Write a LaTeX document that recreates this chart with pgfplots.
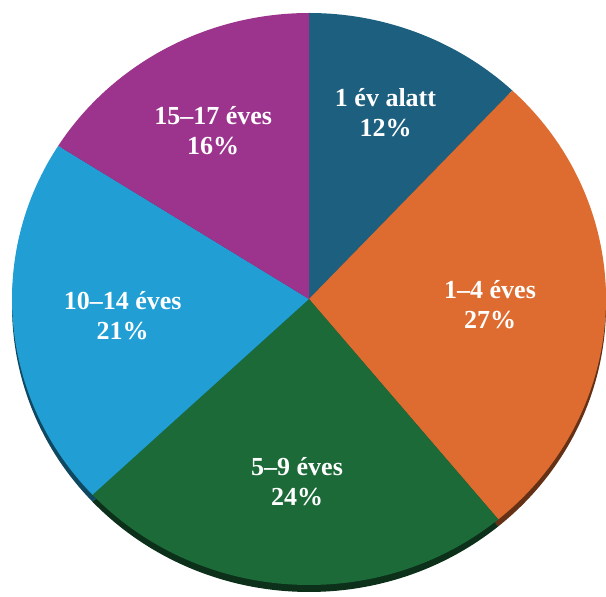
\documentclass[border=0pt]{standalone}
\usepackage{fontspec}
\setmainfont{Liberation Serif}
\usepackage{pgfplots}
\usepackage{pgfplotstable}
\pgfplotsset{compat=1.18}
\definecolor{cA}{HTML}{1C5F7E}
\definecolor{cB}{HTML}{DE6C30}
\definecolor{cC}{HTML}{1B6A37}
\definecolor{cD}{HTML}{219FD5}
\definecolor{cE}{HTML}{9C348E}
\pgfplotstableread[col sep=comma]{
label,value,col,lr
1 év alatt,12,cA,0.70
1–4 éves,27,cB,0.61
5–9 éves,24,cC,0.64
10–14 éves,21,cD,0.63
15–17 éves,16,cE,0.67
}\piedata
\tikzset{lbl/.style={text=white,align=center,font=\bfseries\fontsize{26}{30}\selectfont}}
\begin{document}
\begin{tikzpicture}
\begin{axis}[name=ax,x=1pt,y=1pt,disabledatascaling,hide axis,
  xmin=0,xmax=606,ymin=0,ymax=597,scale only axis,clip=false]
% rim
\def\cum{0}
\pgfplotsforeachungrouped \i in {0,...,4}{%
  \pgfplotstablegetelem{\i}{value}\of{\piedata}\let\val\pgfplotsretval
  \pgfplotstablegetelem{\i}{col}\of{\piedata}\let\col\pgfplotsretval
  \pgfmathsetmacro\sa{90-3.6*\cum}%
  \pgfmathsetmacro\ea{90-3.6*(\cum+\val)}%
  \edef\temp{\noexpand\fill[\col!45!black] (axis cs:309,291) -- ++(\sa:297pt and 286pt) arc[start angle=\sa, end angle=\ea, x radius=297pt, y radius=286pt] -- cycle;}%
  \temp
  \pgfmathsetmacro\cum{\cum+\val}%
}
% faces
\def\cum{0}
\pgfplotsforeachungrouped \i in {0,...,4}{%
  \pgfplotstablegetelem{\i}{value}\of{\piedata}\let\val\pgfplotsretval
  \pgfplotstablegetelem{\i}{col}\of{\piedata}\let\col\pgfplotsretval
  \pgfmathsetmacro\sa{90-3.6*\cum}%
  \pgfmathsetmacro\ea{90-3.6*(\cum+\val)}%
  \edef\temp{\noexpand\fill[\col] (axis cs:309,298) -- ++(\sa:297pt and 286pt) arc[start angle=\sa, end angle=\ea, x radius=297pt, y radius=286pt] -- cycle;}%
  \temp
  \pgfmathsetmacro\cum{\cum+\val}%
}
% labels
\def\cum{0}
\pgfplotsforeachungrouped \i in {0,...,4}{%
  \pgfplotstablegetelem{\i}{value}\of{\piedata}\let\val\pgfplotsretval
  \pgfplotstablegetelem{\i}{label}\of{\piedata}\let\lab\pgfplotsretval
  \pgfplotstablegetelem{\i}{lr}\of{\piedata}\let\lr\pgfplotsretval
  \pgfmathsetmacro\ma{90-3.6*(\cum+\val/2)}%
  \pgfmathsetmacro\lx{309+\lr*297*cos(\ma)}%
  \pgfmathsetmacro\ly{298+\lr*286*sin(\ma)}%
  \edef\temp{\noexpand\node[lbl] at (axis cs:\lx,\ly) {\lab\noexpand\\\val\noexpand\%};}%
  \temp
  \pgfmathsetmacro\cum{\cum+\val}%
}
\end{axis}
\pgfresetboundingbox
\path (ax.south west) rectangle (ax.north east);
\end{tikzpicture}
\end{document}
